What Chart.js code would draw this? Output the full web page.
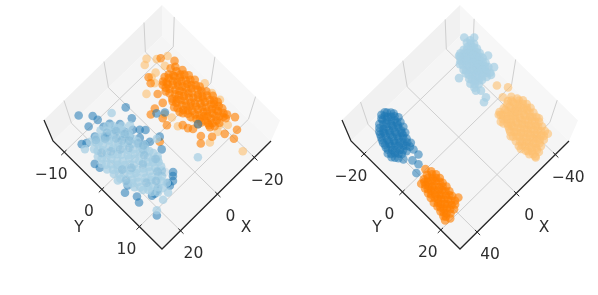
<!DOCTYPE html>
<html><head><meta charset="utf-8">
<style>html,body{margin:0;padding:0;background:#fff;width:598px;height:295px;overflow:hidden}
canvas{position:absolute;top:0}</style>
<script src="https://cdn.jsdelivr.net/npm/chart.js@4/dist/chart.umd.min.js"></script>
</head><body>
<canvas id="left" width="298" height="295" style="left:0"></canvas>
<canvas id="right" width="300" height="295" style="left:298px"></canvas>
<script>
// tick labels and limits of the two panels
const leftXTicks=[-20,0,20], leftYTicks=[-10,0,10];
const rightXTicks=[-40,0,40], rightYTicks=[-20,0,20];
const leftXLimits=[-29,30], leftYLimits=[-13,16];
const rightXLimits=[-54,57.5], rightYLimits=[-26.8,30];
const seriesColors={lightBlue:'rgba(166,206,227,0.72)',blue:'rgba(31,120,180,0.55)',blueDeep:'rgba(31,120,180,0.12)',lightOrange:'rgba(253,191,111,0.6)',orange:'rgba(255,127,0,0.62)'};

// [X, Y], left panel
const leftOrange=[[-24,-7],[-22.3,-7.4],[-20,-6.8],[-18.2,-7],[-16.5,-6.6],
[-25,-5.6],[-23.2,-5.2],[-21,-5.8],[-19.3,-5.3],[-17,-5.6],[-15.5,-5.4],
[-25.2,-4],[-23,-3.7],[-21.6,-4.2],[-19.5,-4],[-17.6,-3.8],[-15,-4.1],
[-25.6,-2.6],[-23.2,-2.3],[-21,-2.7],[-19.1,-2.4],[-17,-2.6],[-15.2,-2.3],[-13.6,-2.6],
[-25,-1],[-23.6,-.8],[-21.2,-1.2],[-19,-.9],[-17.1,-1.1],[-15,-.8],[-13,-1],
[-25.5,.5],[-23,.7],[-21.5,.3],[-19.2,.6],[-17,.4],[-15.2,.7],[-13.1,.4],
[-26,2],[-24,2.2],[-22.1,1.8],[-20,2.1],[-18.2,1.9],[-16,2.2],[-14.1,1.9],
[-25.6,3.5],[-24,3.3],[-22,3.7],[-20.1,3.4],[-18,3.6],[-16.2,3.4],
[-25,5],[-23.1,4.8],[-21,5.2],[-19.2,4.9],[-17,5.1],
[-24.6,6.5],[-23,6.3],[-20.2,6.6],[-18,6.4],
[-23,-6.2],[-21,-6.1],[-19,-6.3],[-17.2,-6],[-15.5,-6.2],
[-24.2,-4.7],[-22.2,-4.9],[-20.2,-4.6],[-18.3,-4.8],[-16.2,-4.7],[-14.5,-4.9],
[-24.4,-3.2],[-22.4,-3],[-20.4,-3.3],[-18.4,-3.1],[-16.3,-3.2],[-14.2,-3],
[-24.3,-1.7],[-22.3,-1.9],[-20.1,-1.6],[-18.1,-1.8],[-16.1,-1.7],[-14.2,-1.9],[-12.4,-1.6],
[-24.3,-.2],[-22.3,-.1],[-20.2,-.3],[-18.1,0],[-16.1,-.2],[-14.1,0],[-12.5,-.2],
[-24.5,1.2],[-22.4,1.1],[-20.5,1.4],[-18.4,1.2],[-16.3,1.3],[-14.2,1.1],
[-25,2.8],[-23,2.9],[-21,2.7],[-19,3],[-17.1,2.8],[-15.1,3],
[-24.7,4.2],[-23,4.2],[-21,4.3],[-19,4.1],[-17,4.3],[-15.5,4.1],
[-24,5.8],[-22,5.7],[-20.1,5.9],[-18.2,5.7],[-16.5,5.9],
[-22.4,-10.1],[-13.8,-9.1],[-12.7,-8],[-11.6,-5.6],[-10.5,-3.7],[-6.8,-4],[-4,-3.7],[-6.2,-1.6],[-5.4,-.1],[-9.7,2],[-10.3,3.1],[-11.4,3.9],[-14.1,3.9],[-11.6,5.9],[-9.5,6.9],[-16.8,5.5],[-14.4,7.5],[-18.6,8.8],[-19.7,10.7],[-23,9.9],[-26,7.9],[-23.2,6.8],[-25.4,-7.9],[1.1,1.2]];
const leftLightOrange=[[-18.4,-11.9],[-16.2,-11.3],[-21.1,-10.5],[-24.9,-9.5],[-21.4,-8.5],[-17,-8.8],[-8.6,-7.1],[-13.8,-7.5],[-8.9,-.5],[-8.1,1.5],[-14.3,2.4],[-18.4,4.1],[-26.5,1.5],[-26.8,3.5],[-19.7,6.9],[-21.9,8],[-17.3,7.6],[-12.2,8],[-18.6,13.6],[-27.3,-.8],[-7.8,-1.9],[-14.6,-8.7]];
const leftBlue=[[15.9,-13.1],[12.2,-11.2],[11.9,-10],[.8,-8],[2.2,-5.7],[9.7,-7.9],[12.2,-8.3],[1.7,-2.3],[5.1,-4],[16.2,-10.3],[-.3,.5],[5.4,-2],[23,-8.8],[21.4,-8.3],[-5.9,-3.1],[-8.4,-2.1],[-14.1,3.9],[2.7,2.5],[5.9,7.1],[7,7.6],[8.4,8.3],[10.3,7.9],[10.5,8.5],[15.4,7.5],[18.1,7.5],[24.6,3.5],[22.4,5.6],[23.5,6.7],[22.2,10.8],[24.9,-4.4],[24.6,-3.2],[5.9,-.4],[13.8,-6.4],[16.8,7.6],[14.6,7.3],[7.8,0],[21.9,2.9],
[10,-6.4],[7.8,-4.8],[3.2,-3.1],[3.8,-.1],[14.6,-6.8],[7.8,-3.5],[7,-6.5],[17.3,-8.1]];
const leftBlueDeep=[[18,-7.5],[13,-7],[10,-6],[8.5,-4.5],[9,-3],[7.5,-1.5],[12,-5],[15,-6.5],[11,-2],[14,-3],[17,-4],[20,-5],[9,1],[7,3],[12,2],[16,1],[19,0],[10,5],[13,6],[8,6],[16,5],[21,2],[6.5,-.5],[11,-4]];
const leftLightBlue=[[20,-8],[17.2,-7.8],[14,-8.2],[11,-7.9],
[21,-6.5],[18.1,-6.7],[15.2,-6.3],[12,-6.6],[9,-6.4],
[22,-5],[19,-5.2],[16.1,-4.8],[13,-5.1],[10.2,-4.9],[8,-5.2],
[23,-3.5],[20,-3.7],[17.2,-3.3],[14,-3.6],[11.1,-3.4],[8,-3.7],
[23.1,-2],[20.5,-2.2],[18,-1.8],[15.1,-2.1],[12,-1.9],[9.2,-2.2],[7,-1.9],
[22.5,-.5],[20,-.7],[17.1,-.3],[14,-.6],[11.2,-.4],[8,-.7],[6,-.4],
[22,1],[19.5,.8],[17,1.2],[14.5,.9],[12,1.1],[9.1,.8],[6.5,1.1],
[21.5,2.5],[19,2.7],[16.2,2.3],[13,2.6],[10,2.4],[8,2.7],
[20.5,4],[18,3.8],[15,4.2],[12.1,3.9],[9.5,4.1],[7,3.8],
[19,5.5],[16.5,5.7],[14,5.3],[11,5.6],[8.5,5.4],
[17,7],[14,7.2],[11.5,6.8],
[18.6,-7.2],[15.6,-7.1],[12.5,-7.3],[9.5,-7.2],
[20.5,-5.8],[17.5,-5.9],[14.5,-5.7],[11.5,-5.8],[8.5,-5.9],
[21.5,-4.2],[18.5,-4.3],[15.5,-4.1],[12.5,-4.2],[9.5,-4.3],[7,-4.1],
[22,-2.8],[19,-2.9],[16,-2.7],[13,-2.8],[10,-2.9],[7.5,-2.7],
[21.5,-1.2],[19,-1.3],[16.5,-1.1],[13.5,-1.2],[10.5,-1.3],[7.5,-1.1],
[21,.2],[18.5,.1],[15.5,.3],[12.5,.2],[9.5,.1],[7,.3],
[20.5,1.8],[18,1.7],[15,1.9],[11.5,1.8],[8.5,1.7],[6,1.9],
[20,3.2],[17,3.1],[14,3.3],[11,3.2],[8.5,3.1],[6.5,3.3],
[19,4.8],[16,4.7],[13,4.9],[10,4.8],[7.5,4.7],
[17.5,6.2],[15,6.3],[12.5,6.1],[10,6.2],
[15.5,7.8],[13,7.9],[10.5,7.7],
[6.2,-9.1],[7,-6],[-4.9,8.4],[16.2,9.5],[12.9,9.2],[20.8,10.1],[23.5,-7.7],[23.2,.9],[1.1,.4],[5.7,2.9],[4.6,-5]];

// [X, Y], right panel
const rightBlue=[[28,-26],[25,-25.8],
[34,-24],[30.2,-24.3],[26,-23.8],[22,-24.1],
[38,-22],[34.2,-21.7],[30,-22.3],[26.1,-21.8],[22,-22.2],
[40,-20],[36,-20.3],[32.2,-19.8],[28,-20.2],[24,-19.8],
[42,-18],[38.1,-17.7],[34,-18.3],[30,-17.9],[26,-18.1],
[43,-16],[39,-16.2],[35.2,-15.8],[31,-16.1],[27,-15.9],
[45,-14],[41,-13.8],[37,-14.2],[33.1,-13.9],[29,-14.1],
[45,-12],[41.2,-12.2],[37,-11.8],[33,-12.1],[29.2,-11.9],
[42,-10],[38,-10.2],[34.1,-9.8],[30,-10.1],
[30,-25],[27,-24.8],[24,-25.1],
[36,-23],[32,-22.9],[28,-23.2],[24,-22.9],[21,-23.1],
[39,-21],[36,-20.9],[32,-21.2],[28,-20.9],[24,-21.1],[20.5,-20.9],
[41,-19],[37,-19.1],[33,-18.9],[29,-19.2],[25,-18.9],[22,-19.1],
[42,-17],[38,-16.9],[34,-17.1],[30,-17],[26,-16.8],[23,-17.1],
[43,-15],[39.5,-15.1],[35.5,-14.9],[31.5,-15.2],[27.5,-14.9],[25,-15.1],
[43.5,-13],[39.5,-12.9],[35.5,-13.2],[31.5,-12.9],[27.5,-13.1],
[43.5,-11],[39.5,-11.1],[35.5,-10.9],[31.5,-11.2],[27.5,-10.9],
[29.7,-8.4],[29.7,-5.8],[35.9,-5.8],[34.8,-3.2],[40.5,-1.4],[40,-8.4]];
const rightOrange=[[32,2],[36,1.8],[40,2.2],
[31,4],[35.1,4.2],[39,3.8],[42,4.1],
[31,6],[35,5.8],[39.2,6.2],[43,5.9],
[32,8],[36,8.2],[40,7.8],[44,8.1],
[32.1,10],[36,9.8],[40.2,10.2],[44,9.9],
[33,12],[37,12.2],[41,11.8],[45,12.1],
[34,14],[38,13.8],[42.1,14.2],[46,13.9],
[35,16],[39,16.2],[43,15.8],[47,16.1],
[40,18],[44,18.2],[48,17.8],
[33,3],[37,2.9],[41,3.1],
[33,5],[37,4.9],[41,5.2],[44,4.9],
[33,7],[38,6.9],[42,7.1],[45,7],
[34,9],[38,8.9],[42,9.2],[46,8.9],
[35,11],[39,10.9],[43,11.1],[47,11],
[35,13],[40,12.9],[44,13.1],[47,12.9],
[37,15],[41,14.9],[45,15.1],[48,15],
[37,17],[42,16.9],[46,17.1],[49,17],
[33.8,-.1],[43.6,2.7],[31.7,16],[50.3,18.6],[46.7,19.4]];
const rightLightBlue=[[-57,-23],[-54,-23.2],
[-57,-21],[-54,-20.8],[-50,-21.2],[-47,-20.9],[-43,-21.1],
[-56,-19],[-53,-19.2],[-50,-18.8],[-46,-19.1],[-43,-18.9],[-39,-19.2],
[-55,-17],[-52,-16.8],[-49,-17.2],[-46,-16.9],[-42,-17.1],[-38,-16.8],
[-54,-15],[-51,-15.2],[-48,-14.8],[-45,-15.1],[-41,-14.9],[-37,-15.2],
[-53,-13],[-50,-12.8],[-47,-13.2],[-44,-12.9],[-40,-13.1],[-36,-12.8],
[-52,-11],[-49,-11.2],[-46,-10.8],[-42,-11.1],[-38,-10.9],[-34,-11.2],
[-50,-9],[-46,-8.8],[-42,-9.2],[-38,-8.9],[-34,-9.1],
[-55.5,-22],[-52,-21.9],[-48.5,-22.1],[-45,-22],
[-55,-20],[-51.5,-19.9],[-48,-20.1],[-44.5,-20],[-41,-19.9],
[-54,-18],[-50.5,-18.1],[-47.5,-17.9],[-44,-18],[-40,-18.1],
[-53,-16],[-49.5,-15.9],[-46.5,-16.1],[-43,-16],[-39,-15.9],
[-52,-14],[-48.5,-14.1],[-45.5,-13.9],[-42,-14],[-38,-14.1],
[-51,-12],[-47.5,-11.9],[-44.5,-12.1],[-41,-12],[-37,-11.9],
[-48,-10],[-44,-10.1],[-40,-9.9],[-36,-10],
[-55.4,-25.3],[-60.5,-22.7],[-43,-21.7],[-58,-14.2],[-54.9,-9.5],[-49.2,-8.2],[-31.2,-15.7],[-31.2,-2.7],[-34.8,-3.5],[-35.8,-6.6],[-33.2,-7.9]];
const rightLightOrange=[[-48,3],[-44,3.2],
[-50,5],[-46,4.8],[-42,5.2],[-38,4.9],[-33,5.1],
[-52,7],[-48,6.8],[-44,7.2],[-40,6.9],[-36,7.1],[-32,6.8],
[-52,9],[-48,9.2],[-44,8.8],[-40,9.1],[-36,8.9],[-32,9.2],
[-52,11],[-49,10.8],[-45,11.2],[-41,10.9],[-37,11.1],[-33,10.8],[-30,11.1],
[-51,13],[-47,13.2],[-43,12.8],[-39,13.1],[-35,12.9],[-31,13.2],
[-50,15],[-46,14.8],[-42,15.2],[-38,14.9],[-34,15.1],[-30,14.8],
[-49,17],[-45,17.2],[-41,16.8],[-37,17.1],[-33,16.9],[-29,17.2],
[-48,19],[-44,18.8],[-40,19.2],[-36,18.9],[-32,19.1],[-28,18.8],
[-47,21],[-43,21.2],[-39,20.8],[-35,21.1],[-31,20.9],[-27,21.2],
[-42,23],[-38,22.8],[-34,23.2],[-30,22.9],[-27,23.1],
[-33,25],[-29,25.2],
[-46,4],[-42,3.9],[-38,4.1],[-34,4],
[-50,6],[-46,5.9],[-42,6.1],[-38,6],[-34,5.9],
[-50,8],[-46,7.9],[-42,8.1],[-38,8],[-34,7.9],[-30,8.1],
[-50,10],[-46,9.9],[-42,10.1],[-38,10],[-34,9.9],[-31,10.1],
[-49,12],[-45,11.9],[-41,12.1],[-37,12],[-33,11.9],[-29,12.1],
[-48,14],[-44,13.9],[-40,14.1],[-36,14],[-32,13.9],[-28,14.1],
[-47,16],[-43,15.9],[-39,16.1],[-35,16],[-31,15.9],[-27,16.1],
[-46,18],[-42,17.9],[-38,18.1],[-34,18],[-30,17.9],[-26,18.1],
[-45,20],[-41,19.9],[-37,20.1],[-33,20],[-29,19.9],
[-44,22],[-40,21.9],[-36,22.1],[-32,22],[-28,21.9],
[-37,24],[-33,23.9],[-29,24.1],
[-46.6,-3.8],[-51.3,-.4],[-43.5,.9],[-32.2,4.5],[-29.6,6.9],[-47.1,22.5],[-28.6,25.6],[-50.7,16],[-25.5,19.4],[-27,13.4]];

// view geometry of the 3D box (positions of box corners in the drawing plane)
const BOX={B:[162,249],R:[271,141],L:[53,141],T:[162,36],Lt:[44,120],Tt:[162,5],Rt:[280,120.5]};
const lerp=(a,b,t)=>[a[0]+(b[0]-a[0])*t,a[1]+(b[1]-a[1])*t];

function makePanel(id,width,xLim,yLim,xTicks,yTicks,clouds){
  const u=X=>(xLim[1]-X)/(xLim[1]-xLim[0]);
  const v=Y=>(yLim[1]-Y)/(yLim[1]-yLim[0]);
  const floor=(X,Y)=>{const a=lerp(BOX.B,BOX.R,u(X)),b=lerp(BOX.L,BOX.T,u(X)),p=lerp(a,b,v(Y));return {x:p[0],y:p[1]};};
  const asPt=p=>({x:p[0],y:p[1]});
  const line=(data,color,w)=>({data,showLine:true,pointRadius:0,borderColor:color,borderWidth:w,fill:false,tension:0,clip:false});
  const GRID='#cfcfcf',AXIS='#262626';
  const ds=[];
  clouds.forEach(c=>ds.push({data:c.points.map(p=>floor(p[0],p[1])),backgroundColor:c.color,pointBackgroundColor:c.color,pointBorderWidth:0,borderWidth:0,pointRadius:4.3,pointHoverRadius:4.3,clip:false}));
  // spines and ticks
  ds.push(line([asPt(BOX.Lt),asPt(BOX.L),asPt(BOX.B),asPt(BOX.R)],AXIS,1.3));
  const yRange=yLim[1]-yLim[0],xRange=xLim[1]-xLim[0];
  xTicks.forEach(t=>ds.push(line([floor(t,yLim[1]+yRange*.028),floor(t,yLim[1]-yRange*.02)],AXIS,1)));
  yTicks.forEach(t=>ds.push(line([floor(xLim[1]+xRange*.028,t),floor(xLim[1]-xRange*.02,t)],AXIS,1)));
  // grid lines, folding up the walls
  xTicks.forEach(t=>ds.push(line([floor(t,yLim[1]),floor(t,yLim[0]),asPt(lerp(BOX.Lt,BOX.Tt,u(t)))],GRID,1)));
  yTicks.forEach(t=>ds.push(line([floor(xLim[0],t),asPt(lerp(BOX.Rt,BOX.Tt,v(t)))],GRID,1)));
  yTicks.forEach(t=>ds.push(line([floor(xLim[1],t),floor(xLim[0],t)],GRID,1)));
  const panes=[
    {c:'#f1f1f1',pts:[BOX.L,BOX.Lt,BOX.Tt,BOX.T]},
    {c:'#f7f7f7',pts:[BOX.T,BOX.Tt,BOX.Rt,BOX.R]},
    {c:'#f5f5f5',pts:[BOX.B,BOX.R,BOX.T,BOX.L]}];
  const plugin={id:'box3d',
    beforeDatasetsDraw(ch){
      const c=ch.ctx,sx=ch.scales.x,sy=ch.scales.y;
      panes.forEach(p=>{c.beginPath();p.pts.forEach((q,i)=>{const a=sx.getPixelForValue(q[0]),b=sy.getPixelForValue(q[1]);i?c.lineTo(a,b):c.moveTo(a,b);});c.closePath();c.fillStyle=p.c;c.fill();});
    },
    afterDatasetsDraw(ch){
      const c=ch.ctx,sx=ch.scales.x,sy=ch.scales.y;
      c.save();c.font='15.5px "DejaVu Sans"';c.fillStyle='#2e2e2e';c.textAlign='center';c.textBaseline='middle';
      const txt=(s,p,dx,dy)=>c.fillText(s,sx.getPixelForValue(p.x)+dx,sy.getPixelForValue(p.y)+dy);
      const fmt=t=>String(t).replace('-','\u2212');
      xTicks.forEach(t=>txt(fmt(t),floor(t,yLim[1]),13,23));
      yTicks.forEach(t=>txt(fmt(t),floor(xLim[1],t),-13,23));
      txt('X',asPt(lerp(BOX.B,BOX.R,.5)),29.5,33);
      txt('Y',asPt(lerp(BOX.B,BOX.L,.5)),-28.5,33);
      c.restore();
    }};
  new Chart(document.getElementById(id),{type:'scatter',data:{datasets:ds},plugins:[plugin],options:{
    responsive:false,animation:false,events:[],layout:{padding:0,autoPadding:false},
    plugins:{legend:{display:false},tooltip:{enabled:false}},
    scales:{x:{type:'linear',display:false,min:0,max:width},y:{type:'linear',display:false,min:0,max:295,reverse:true}}
  }});
}
makePanel('left',298,leftXLimits,leftYLimits,leftXTicks,leftYTicks,[
  {points:leftBlueDeep,color:seriesColors.blueDeep},
  {points:leftLightBlue,color:seriesColors.lightBlue},
  {points:leftBlue,color:seriesColors.blue},
  {points:leftOrange,color:seriesColors.orange},
  {points:leftLightOrange,color:seriesColors.lightOrange}]);
makePanel('right',300,rightXLimits,rightYLimits,rightXTicks,rightYTicks,[
  {points:rightOrange,color:seriesColors.orange},
  {points:rightBlue,color:seriesColors.blue},
  {points:rightLightOrange,color:seriesColors.lightOrange},
  {points:rightLightBlue,color:seriesColors.lightBlue}]);
</script>
</body></html>
